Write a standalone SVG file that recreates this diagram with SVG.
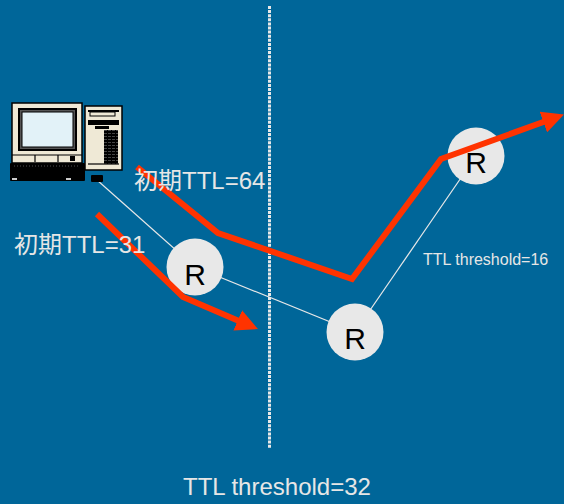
<svg xmlns="http://www.w3.org/2000/svg" width="564" height="504" viewBox="0 0 564 504">
  <style>
    .label { font-family: "Liberation Sans", "Noto Sans CJK JP", sans-serif; fill: #e6e6e6; }
    .rtxt { font-family: "Liberation Sans", sans-serif; font-size: 30px; fill: #000; text-anchor: middle; }
    .router { fill: #e8e8e8; }
    .link { stroke: #e8e8e8; stroke-width: 1.2; fill: none; }
    .flow { stroke: #ff3300; stroke-width: 6; fill: none; stroke-linejoin: miter; }
    .blk { fill: #000; }
    .beige { fill: #efe9d6; stroke: #000; stroke-width: 1.5; }
  </style>
  <defs>
    <marker id="arrow" markerUnits="userSpaceOnUse" markerWidth="22" markerHeight="22" viewBox="0 0 22 22" refX="14" refY="11" orient="auto">
      <path d="M0,0 L22,11 L0,22 z" fill="#ff3300"/>
    </marker>
    <pattern id="grill" width="4" height="3" patternUnits="userSpaceOnUse">
      <rect width="4" height="3" fill="#000"/>
      <rect x="0" y="1" width="3" height="1" fill="#444"/>
    </pattern>
  </defs>

  <rect x="0" y="0" width="564" height="504" fill="#006699"/>

  <!-- boundary of the TTL=32 scope -->
  <line x1="269.5" y1="6" x2="269.5" y2="448" stroke="#e8e8e8" stroke-width="3" stroke-dasharray="3 1.1"/>

  <!-- thin network links -->
  <g id="links">
    <line class="link" x1="97" y1="180" x2="195" y2="267"/>
    <line class="link" x1="195" y1="267" x2="355" y2="332"/>
    <line class="link" x1="355" y1="332" x2="476" y2="156"/>
  </g>

  <!-- host computer -->
  <g id="pc">
    <rect class="beige" x="12" y="103" width="70" height="60"/>
    <rect class="blk" x="18" y="108" width="59" height="43"/>
    <rect x="20" y="110" width="55" height="39" fill="#555"/>
    <rect x="22" y="112" width="51" height="35" fill="#e2f2f8" stroke="#000" stroke-width="1"/>
    <line x1="12" y1="155" x2="82" y2="155" stroke="#000" stroke-width="1.2"/>
    <line x1="35" y1="155" x2="35" y2="162" stroke="#000" stroke-width="1.2"/>
    <line x1="58" y1="155" x2="58" y2="162" stroke="#000" stroke-width="1.2"/>
    <rect class="blk" x="70" y="156" width="5" height="5"/>
    <rect class="blk" x="10" y="163" width="75" height="18" rx="1"/>
    <line x1="14" y1="166" x2="80" y2="166" stroke="#666" stroke-width="0.8" stroke-dasharray="1 2"/>
    <rect x="12" y="178" width="5" height="2" fill="#ccc"/>
    <rect x="66" y="178" width="5" height="2" fill="#ccc"/>
    <rect class="beige" x="85" y="106" width="37" height="64"/>
    <rect class="blk" x="88" y="110" width="31" height="2"/>
    <rect x="90" y="112" width="25" height="4" fill="#efe9d6" stroke="#000" stroke-width="1"/>
    <rect class="blk" x="88" y="120" width="31" height="5"/>
    <rect x="95" y="126" width="14" height="3" fill="#000"/>
    <rect x="104" y="130" width="14" height="34" fill="url(#grill)"/>
    <line x1="88" y1="164" x2="119" y2="164" stroke="#000" stroke-width="1.2"/>
    <rect class="blk" x="91" y="175" width="12" height="7" rx="1"/>
  </g>

  <!-- routers -->
  <g id="router1">
    <circle class="router" cx="195" cy="267" r="28.5"/>
    <text class="rtxt" x="195" y="285">R</text>
  </g>
  <g id="router2">
    <circle class="router" cx="355" cy="332" r="28.5"/>
    <text class="rtxt" x="355" y="349">R</text>
  </g>
  <g id="router3">
    <circle class="router" cx="476" cy="156" r="28.5"/>
    <text class="rtxt" x="476" y="173">R</text>
  </g>

  <!-- multicast flows -->
  <g id="flows">
    <polyline class="flow" points="137,167 218,233 352,279 441,159 556.5,117.3" marker-end="url(#arrow)"/>
    <polyline class="flow" points="97,214 183,297 250.6,325.9" marker-end="url(#arrow)"/>
  </g>

  <!-- labels -->
  <text class="label" x="134" y="189" font-size="24">初期TTL=64</text>
  <text class="label" x="14" y="253" font-size="24">初期TTL=31</text>
  <text class="label" x="423" y="265" font-size="16">TTL threshold=16</text>
  <text class="label" x="183" y="495" font-size="24">TTL threshold=32</text>
</svg>
